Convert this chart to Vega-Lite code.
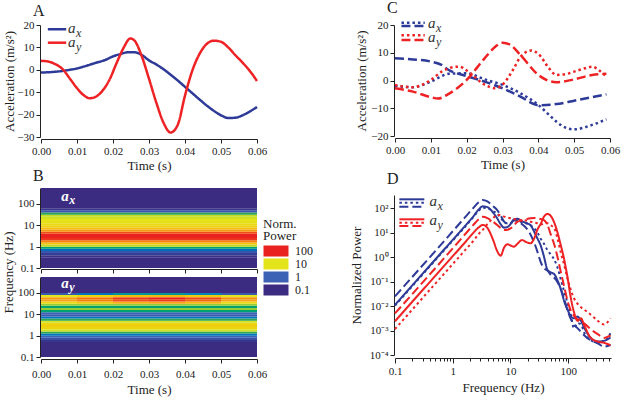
{
"$schema": "https://vega.github.io/schema/vega-lite/v6.json",
"background": "white",
"padding": {"left": 2, "top": 0, "right": 2, "bottom": 2},
"config": {
  "font": "Liberation Serif",
  "view": {"stroke": null},
  "axis": {"labelFont": "Liberation Serif", "titleFont": "Liberation Serif", "labelFontSize": 11, "titleFontSize": 13, "titleFontWeight": "normal", "labelColor": "#222", "titleColor": "#222", "domainColor": "#222", "tickColor": "#222", "grid": false, "tickSize": 4, "labelFlush": false, "labelOverlap": false},
  "title": {"font": "Liberation Serif", "fontSize": 16, "fontWeight": "normal", "anchor": "start", "color": "#222", "frame": "group"},
  "text": {"font": "Liberation Serif"}
},
"spacing": 354,
"bounds": "flush",
"hconcat": [
 {"vconcat": [
  {"width": 216, "height": 112,
   "title": {"text": "A", "dx": -8, "offset": 0, "frame": "group"},
   "layer": [
    {"data": {"values": [
      {"t":0,"k":"ax_solid","v":-1.2},{"t":0.003,"k":"ax_solid","v":-1.0},{"t":0.006,"k":"ax_solid","v":-0.5},{"t":0.008,"k":"ax_solid","v":0},{"t":0.01,"k":"ax_solid","v":0.6},{"t":0.012,"k":"ax_solid","v":1.5},{"t":0.015,"k":"ax_solid","v":3.0},{"t":0.018,"k":"ax_solid","v":4.5},{"t":0.02,"k":"ax_solid","v":6.0},{"t":0.022,"k":"ax_solid","v":7.0},{"t":0.024,"k":"ax_solid","v":7.8},{"t":0.026,"k":"ax_solid","v":7.8},{"t":0.028,"k":"ax_solid","v":6.6},{"t":0.03,"k":"ax_solid","v":4.2},{"t":0.032,"k":"ax_solid","v":2.4},{"t":0.034,"k":"ax_solid","v":0.3},{"t":0.036,"k":"ax_solid","v":-2.2},{"t":0.038,"k":"ax_solid","v":-4.8},{"t":0.04,"k":"ax_solid","v":-7.6},{"t":0.042,"k":"ax_solid","v":-10.4},{"t":0.044,"k":"ax_solid","v":-13.2},{"t":0.046,"k":"ax_solid","v":-15.9},{"t":0.048,"k":"ax_solid","v":-18.3},{"t":0.05,"k":"ax_solid","v":-20.3},{"t":0.052,"k":"ax_solid","v":-21.5},{"t":0.054,"k":"ax_solid","v":-21.4},{"t":0.056,"k":"ax_solid","v":-20.3},{"t":0.058,"k":"ax_solid","v":-18.6},{"t":0.06,"k":"ax_solid","v":-16.6},
      {"t":0,"k":"ay_solid","v":4.0},{"t":0.002,"k":"ay_solid","v":3.7},{"t":0.004,"k":"ay_solid","v":2.5},{"t":0.006,"k":"ay_solid","v":0.3},{"t":0.008,"k":"ay_solid","v":-3.9},{"t":0.01,"k":"ay_solid","v":-8.2},{"t":0.012,"k":"ay_solid","v":-11.5},{"t":0.0135,"k":"ay_solid","v":-12.7},{"t":0.015,"k":"ay_solid","v":-12.2},{"t":0.017,"k":"ay_solid","v":-9.5},{"t":0.019,"k":"ay_solid","v":-4.5},{"t":0.021,"k":"ay_solid","v":3.0},{"t":0.023,"k":"ay_solid","v":10.0},{"t":0.0248,"k":"ay_solid","v":14.0},{"t":0.026,"k":"ay_solid","v":13.0},{"t":0.028,"k":"ay_solid","v":6.0},{"t":0.03,"k":"ay_solid","v":-4.0},{"t":0.032,"k":"ay_solid","v":-14.5},{"t":0.034,"k":"ay_solid","v":-23.5},{"t":0.036,"k":"ay_solid","v":-28.0},{"t":0.038,"k":"ay_solid","v":-24.5},{"t":0.04,"k":"ay_solid","v":-11.5},{"t":0.042,"k":"ay_solid","v":-0.5},{"t":0.044,"k":"ay_solid","v":7.0},{"t":0.046,"k":"ay_solid","v":11.5},{"t":0.048,"k":"ay_solid","v":13.0},{"t":0.05,"k":"ay_solid","v":12.5},{"t":0.052,"k":"ay_solid","v":10.0},{"t":0.054,"k":"ay_solid","v":6.5},{"t":0.056,"k":"ay_solid","v":3.2},{"t":0.058,"k":"ay_solid","v":-0.5},{"t":0.06,"k":"ay_solid","v":-5.0}
     ]},
     "mark": {"type": "line", "interpolate": "monotone", "strokeWidth": 2.5},
     "encoding": {
      "x": {"field": "t", "type": "quantitative", "scale": {"domain": [0, 0.06], "nice": false, "zero": false}, "axis": {"values": [0,0.01,0.02,0.03,0.04,0.05,0.06], "tickCount": 20, "format": ".2f", "title": "Time (s)", "offset": 2, "titlePadding": 3, "labelOverlap": false}},
      "y": {"field": "v", "type": "quantitative", "scale": {"domain": [-30, 20], "nice": false, "zero": false}, "axis": {"values": [-30,-20,-10,0,10,20], "tickCount": 20, "title": "Acceleration (m/s²)", "offset": 1, "titlePadding": 0, "labelOverlap": false}},
      "stroke": {"field": "k", "type": "nominal", "scale": {"domain": ["ax_solid","ax_dotted","ax_dashed","ay_solid","ay_dotted","ay_dashed"], "range": ["#2d3a98","#2d3a98","#2d3a98","#ee2224","#ee2224","#ee2224"]}, "legend": null},
      "strokeDash": {"field": "k", "type": "nominal", "scale": {"domain": ["ax_solid","ax_dotted","ax_dashed","ay_solid","ay_dotted","ay_dashed"], "range": [[1,0],[2.5,3],[9,4],[1,0],[2.5,3],[9,4]]}, "legend": null}
     }},
    {"data": {"values": [{}]}, "mark": {"type": "rule", "stroke": "#2d3a98", "strokeWidth": 2.5}, "encoding": {"x": {"datum": 0.0019}, "x2": {"datum": 0.007}, "y": {"datum": 18.1}}},
    {"data": {"values": [{}]}, "mark": {"type": "rule", "stroke": "#ee2224", "strokeWidth": 2.5}, "encoding": {"x": {"datum": 0.0019}, "x2": {"datum": 0.007}, "y": {"datum": 12.1}}},
    {"data": {"values": [{}]}, "mark": {"type": "text", "text": "a", "fontStyle": "italic", "fontSize": 15, "align": "left", "baseline": "middle", "color": "#333"}, "encoding": {"x": {"datum": 0.0075}, "y": {"datum": 18.6}}},
    {"data": {"values": [{}]}, "mark": {"type": "text", "text": "x", "fontStyle": "italic", "fontSize": 12, "align": "left", "baseline": "middle", "dx": 8, "dy": 5, "color": "#333"}, "encoding": {"x": {"datum": 0.0075}, "y": {"datum": 18.6}}},
    {"data": {"values": [{}]}, "mark": {"type": "text", "text": "a", "fontStyle": "italic", "fontSize": 15, "align": "left", "baseline": "middle", "color": "#333"}, "encoding": {"x": {"datum": 0.0075}, "y": {"datum": 12.6}}},
    {"data": {"values": [{}]}, "mark": {"type": "text", "text": "y", "fontStyle": "italic", "fontSize": 12, "align": "left", "baseline": "middle", "dx": 8, "dy": 5, "color": "#333"}, "encoding": {"x": {"datum": 0.0075}, "y": {"datum": 12.6}}}
   ]},
  {"vconcat": [
    {"width": 216, "height": 80,
     "title": {"text": "B", "dx": -8, "offset": 4, "frame": "group"},
     "layer": [
      {"data": {"values": [
        {"t0":0,"t1":0.06,"f0":0.1,"f1":0.3162,"p":0.1},
        {"t0":0,"t1":0.06,"f0":0.3162,"f1":0.3981,"p":0.18},
        {"t0":0,"t1":0.06,"f0":0.3981,"f1":0.5012,"p":0.35},
        {"t0":0,"t1":0.06,"f0":0.5012,"f1":0.631,"p":0.7},
        {"t0":0,"t1":0.06,"f0":0.631,"f1":0.7943,"p":1.1},
        {"t0":0,"t1":0.06,"f0":0.7943,"f1":1,"p":2.5},
        {"t0":0,"t1":0.06,"f0":1,"f1":1.259,"p":8},
        {"t0":0,"t1":0.06,"f0":1.259,"f1":1.585,"p":18},
        {"t0":0,"t1":0.06,"f0":1.585,"f1":1.995,"p":45},
        {"t0":0,"t1":0.06,"f0":1.995,"f1":2.512,"p":90},
        {"t0":0,"t1":0.06,"f0":2.512,"f1":3.162,"p":100},
        {"t0":0,"t1":0.06,"f0":3.162,"f1":3.981,"p":100},
        {"t0":0,"t1":0.06,"f0":3.981,"f1":5.012,"p":75},
        {"t0":0,"t1":0.06,"f0":5.012,"f1":6.31,"p":35},
        {"t0":0,"t1":0.06,"f0":6.31,"f1":7.943,"p":20},
        {"t0":0,"t1":0.06,"f0":7.943,"f1":10,"p":14},
        {"t0":0,"t1":0.06,"f0":10,"f1":12.59,"p":12},
        {"t0":0,"t1":0.06,"f0":12.59,"f1":15.85,"p":11},
        {"t0":0,"t1":0.06,"f0":15.85,"f1":19.95,"p":10},
        {"t0":0,"t1":0.06,"f0":19.95,"f1":25.12,"p":9},
        {"t0":0,"t1":0.06,"f0":25.12,"f1":31.62,"p":8},
        {"t0":0,"t1":0.06,"f0":31.62,"f1":39.81,"p":3},
        {"t0":0,"t1":0.06,"f0":39.81,"f1":50.12,"p":0.7},
        {"t0":0,"t1":0.06,"f0":50.12,"f1":63.1,"p":0.2},
        {"t0":0,"t1":0.06,"f0":63.1,"f1":560,"p":0.1}
       ]},
       "mark": {"type": "rect"},
       "encoding": {
        "x": {"field": "t0", "type": "quantitative", "scale": {"domain": [0, 0.06], "nice": false, "zero": false}, "axis": {"values": [0,0.01,0.02,0.03,0.04,0.05,0.06], "tickCount": 20, "labels": false, "title": null, "offset": 1}},
        "x2": {"field": "t1"},
        "y": {"field": "f0", "type": "quantitative", "scale": {"type": "log", "domain": [0.1, 560], "nice": false}, "axis": {"values": [0.1,1,10,100], "tickCount": 20, "format": "~g", "title": "Frequency (Hz)", "titleY": 84, "titlePadding": 2, "offset": 1, "labelOverlap": false}},
        "y2": {"field": "f1"},
        "color": {"field": "p", "type": "quantitative", "scale": {"type": "log", "domain": [0.1, 0.3, 1, 3, 10, 30, 100], "range": ["#3b2c81", "#35388f", "#3c62b6", "#2fa64f", "#e4e41c", "#f6a51b", "#e9221f"], "clamp": true},
         "legend": {"type": "symbol", "values": [100, 10, 1, 0.1], "format": "~g", "title": ["Norm.", "Power"], "orient": "none", "legendX": 222, "legendY": 30, "symbolType": "M-1,-1H3.545V1H-1Z", "symbolSize": 121, "symbolStrokeWidth": 0, "symbolOpacity": 1, "labelFontSize": 12, "labelFont": "Liberation Serif", "titleFont": "Liberation Serif", "titleFontSize": 13, "titleFontWeight": "normal", "titleLineHeight": 12, "rowPadding": 1, "labelOffset": 20, "titlePadding": 2, "labelColor": "#222", "titleColor": "#222"}}
       }},
      {"data": {"values": [{}]}, "mark": {"type": "text", "text": "a", "fontStyle": "italic", "fontWeight": "bold", "fontSize": 15, "align": "left", "baseline": "middle", "color": "white"}, "encoding": {"x": {"datum": 0.0056}, "y": {"datum": 240}}},
      {"data": {"values": [{}]}, "mark": {"type": "text", "text": "x", "fontStyle": "italic", "fontWeight": "bold", "fontSize": 12, "align": "left", "baseline": "middle", "dx": 8, "dy": 4, "color": "white"}, "encoding": {"x": {"datum": 0.0056}, "y": {"datum": 240}}}
     ]},
    {"width": 216, "height": 80,
     "layer": [
      {"data": {"values": [
        {"t0":0,"t1":0.06,"f0":0.1,"f1":0.5012,"p":0.1},
        {"t0":0,"t1":0.06,"f0":0.5012,"f1":0.631,"p":0.25},
        {"t0":0,"t1":0.06,"f0":0.631,"f1":0.7943,"p":0.6},
        {"t0":0,"t1":0.06,"f0":0.7943,"f1":1,"p":1.0},
        {"t0":0,"t1":0.06,"f0":1,"f1":1.259,"p":1.2},
        {"t0":0,"t1":0.06,"f0":1.259,"f1":1.585,"p":3},
        {"t0":0,"t1":0.06,"f0":1.585,"f1":1.995,"p":9},
        {"t0":0,"t1":0.06,"f0":1.995,"f1":2.512,"p":13},
        {"t0":0,"t1":0.06,"f0":2.512,"f1":3.162,"p":15},
        {"t0":0,"t1":0.06,"f0":3.162,"f1":3.981,"p":13},
        {"t0":0,"t1":0.06,"f0":3.981,"f1":5.012,"p":9},
        {"t0":0,"t1":0.06,"f0":5.012,"f1":6.31,"p":3},
        {"t0":0,"t1":0.06,"f0":6.31,"f1":7.943,"p":1.2},
        {"t0":0,"t1":0.06,"f0":7.943,"f1":10,"p":0.8},
        {"t0":0,"t1":0.06,"f0":10,"f1":12.59,"p":1.0},
        {"t0":0,"t1":0.06,"f0":12.59,"f1":15.85,"p":2.5},
        {"t0":0,"t1":0.06,"f0":15.85,"f1":19.95,"p":6},
        {"t0":0,"t1":0.06,"f0":19.95,"f1":25.12,"p":2.5},
        {"t0":0,"t1":0.06,"f0":25.12,"f1":31.62,"p":6},
        {"t0":0,"t1":0.01,"f0":31.62,"f1":39.81,"p":12},{"t0":0.01,"t1":0.02,"f0":31.62,"f1":39.81,"p":16},{"t0":0.02,"t1":0.03,"f0":31.62,"f1":39.81,"p":25},{"t0":0.03,"t1":0.04,"f0":31.62,"f1":39.81,"p":30},{"t0":0.04,"t1":0.05,"f0":31.62,"f1":39.81,"p":22},{"t0":0.05,"t1":0.06,"f0":31.62,"f1":39.81,"p":12},
        {"t0":0,"t1":0.01,"f0":39.81,"f1":50.12,"p":30},{"t0":0.01,"t1":0.02,"f0":39.81,"f1":50.12,"p":45},{"t0":0.02,"t1":0.03,"f0":39.81,"f1":50.12,"p":75},{"t0":0.03,"t1":0.04,"f0":39.81,"f1":50.12,"p":85},{"t0":0.04,"t1":0.05,"f0":39.81,"f1":50.12,"p":60},{"t0":0.05,"t1":0.06,"f0":39.81,"f1":50.12,"p":30},
        {"t0":0,"t1":0.01,"f0":50.12,"f1":63.1,"p":35},{"t0":0.01,"t1":0.02,"f0":50.12,"f1":63.1,"p":55},{"t0":0.02,"t1":0.03,"f0":50.12,"f1":63.1,"p":90},{"t0":0.03,"t1":0.04,"f0":50.12,"f1":63.1,"p":100},{"t0":0.04,"t1":0.05,"f0":50.12,"f1":63.1,"p":80},{"t0":0.05,"t1":0.06,"f0":50.12,"f1":63.1,"p":40},
        {"t0":0,"t1":0.01,"f0":63.1,"f1":79.43,"p":10},{"t0":0.01,"t1":0.02,"f0":63.1,"f1":79.43,"p":14},{"t0":0.02,"t1":0.03,"f0":63.1,"f1":79.43,"p":20},{"t0":0.03,"t1":0.04,"f0":63.1,"f1":79.43,"p":22},{"t0":0.04,"t1":0.05,"f0":63.1,"f1":79.43,"p":16},{"t0":0.05,"t1":0.06,"f0":63.1,"f1":79.43,"p":10},
        {"t0":0,"t1":0.01,"f0":79.43,"f1":100,"p":0.8},{"t0":0.01,"t1":0.02,"f0":79.43,"f1":100,"p":1.2},{"t0":0.02,"t1":0.03,"f0":79.43,"f1":100,"p":2},{"t0":0.03,"t1":0.04,"f0":79.43,"f1":100,"p":2},{"t0":0.04,"t1":0.05,"f0":79.43,"f1":100,"p":1.5},{"t0":0.05,"t1":0.06,"f0":79.43,"f1":100,"p":0.8},
        {"t0":0,"t1":0.06,"f0":100,"f1":560,"p":0.1}
       ]},
       "mark": {"type": "rect"},
       "encoding": {
        "x": {"field": "t0", "type": "quantitative", "scale": {"domain": [0, 0.06], "nice": false, "zero": false}, "axis": {"values": [0,0.01,0.02,0.03,0.04,0.05,0.06], "tickCount": 20, "format": ".2f", "title": "Time (s)", "offset": 2, "labelPadding": 5, "titlePadding": 4, "labelOverlap": false}},
        "x2": {"field": "t1"},
        "y": {"field": "f0", "type": "quantitative", "scale": {"type": "log", "domain": [0.1, 560], "nice": false}, "axis": {"values": [0.1,1,10,100], "tickCount": 20, "format": "~g", "title": null, "offset": 1, "labelOverlap": false}},
        "y2": {"field": "f1"},
        "color": {"field": "p", "type": "quantitative", "scale": {"type": "log", "domain": [0.1, 0.3, 1, 3, 10, 30, 100], "range": ["#3b2c81", "#35388f", "#3c62b6", "#2fa64f", "#e4e41c", "#f6a51b", "#e9221f"], "clamp": true}, "legend": null}
       }},
      {"data": {"values": [{}]}, "mark": {"type": "text", "text": "a", "fontStyle": "italic", "fontWeight": "bold", "fontSize": 15, "align": "left", "baseline": "middle", "color": "white"}, "encoding": {"x": {"datum": 0.0056}, "y": {"datum": 290}}},
      {"data": {"values": [{}]}, "mark": {"type": "text", "text": "y", "fontStyle": "italic", "fontWeight": "bold", "fontSize": 12, "align": "left", "baseline": "middle", "dx": 8, "dy": 4, "color": "white"}, "encoding": {"x": {"datum": 0.0056}, "y": {"datum": 290}}}
     ]}
   ],
   "spacing": 9, "bounds": "flush",
   "resolve": {"scale": {"color": "independent"}, "legend": {"color": "independent"}}}
 ], "spacing": 51, "bounds": "flush"},
 {"vconcat": [
  {"width": 215, "height": 111,
   "title": {"text": "C", "dx": -8, "offset": 0, "frame": "group"},
   "layer": [
    {"data": {"values": [
      {"t":0,"k":"ax_dashed","v":8.0},{"t":0.005,"k":"ax_dashed","v":7.6},{"t":0.01,"k":"ax_dashed","v":6.8},{"t":0.013,"k":"ax_dashed","v":5.6},{"t":0.015,"k":"ax_dashed","v":3.8},{"t":0.02,"k":"ax_dashed","v":1.6},{"t":0.025,"k":"ax_dashed","v":-0.4},{"t":0.03,"k":"ax_dashed","v":-2.8},{"t":0.035,"k":"ax_dashed","v":-5.8},{"t":0.04,"k":"ax_dashed","v":-8.9},{"t":0.045,"k":"ax_dashed","v":-8.5},{"t":0.05,"k":"ax_dashed","v":-7.3},{"t":0.055,"k":"ax_dashed","v":-6.0},{"t":0.059,"k":"ax_dashed","v":-5.0},
      {"t":0,"k":"ax_dotted","v":-2.0},{"t":0.005,"k":"ax_dotted","v":-2.4},{"t":0.01,"k":"ax_dotted","v":-0.4},{"t":0.015,"k":"ax_dotted","v":2.4},{"t":0.02,"k":"ax_dotted","v":2.6},{"t":0.025,"k":"ax_dotted","v":0.4},{"t":0.03,"k":"ax_dotted","v":-1.6},{"t":0.035,"k":"ax_dotted","v":-4.6},{"t":0.04,"k":"ax_dotted","v":-8.8},{"t":0.043,"k":"ax_dotted","v":-12.4},{"t":0.045,"k":"ax_dotted","v":-14.8},{"t":0.048,"k":"ax_dotted","v":-17.2},{"t":0.05,"k":"ax_dotted","v":-17.6},{"t":0.055,"k":"ax_dotted","v":-16.0},{"t":0.059,"k":"ax_dotted","v":-14.0},
      {"t":0,"k":"ay_dashed","v":-2.8},{"t":0.005,"k":"ay_dashed","v":-4.0},{"t":0.01,"k":"ay_dashed","v":-6.0},{"t":0.012,"k":"ay_dashed","v":-6.5},{"t":0.015,"k":"ay_dashed","v":-4.8},{"t":0.02,"k":"ay_dashed","v":0.2},{"t":0.025,"k":"ay_dashed","v":8.0},{"t":0.028,"k":"ay_dashed","v":12.2},{"t":0.03,"k":"ay_dashed","v":13.6},{"t":0.032,"k":"ay_dashed","v":13.0},{"t":0.035,"k":"ay_dashed","v":9.2},{"t":0.04,"k":"ay_dashed","v":2.0},{"t":0.045,"k":"ay_dashed","v":-0.6},{"t":0.05,"k":"ay_dashed","v":0.4},{"t":0.055,"k":"ay_dashed","v":2.0},{"t":0.059,"k":"ay_dashed","v":2.4},
      {"t":0,"k":"ay_dotted","v":-1.6},{"t":0.005,"k":"ay_dotted","v":-2.4},{"t":0.01,"k":"ay_dotted","v":0.2},{"t":0.013,"k":"ay_dotted","v":3.2},{"t":0.015,"k":"ay_dotted","v":4.4},{"t":0.018,"k":"ay_dotted","v":5.0},{"t":0.02,"k":"ay_dotted","v":3.6},{"t":0.025,"k":"ay_dotted","v":-1.5},{"t":0.028,"k":"ay_dotted","v":-2.8},{"t":0.03,"k":"ay_dotted","v":-1.5},{"t":0.033,"k":"ay_dotted","v":4.0},{"t":0.035,"k":"ay_dotted","v":8.5},{"t":0.038,"k":"ay_dotted","v":10.8},{"t":0.04,"k":"ay_dotted","v":9.6},{"t":0.043,"k":"ay_dotted","v":4.4},{"t":0.045,"k":"ay_dotted","v":2.0},{"t":0.048,"k":"ay_dotted","v":2.4},{"t":0.05,"k":"ay_dotted","v":3.2},{"t":0.053,"k":"ay_dotted","v":4.4},{"t":0.055,"k":"ay_dotted","v":5.0},{"t":0.057,"k":"ay_dotted","v":3.6},{"t":0.059,"k":"ay_dotted","v":1.4}
     ]},
     "mark": {"type": "line", "interpolate": "monotone", "strokeWidth": 2.5},
     "encoding": {
      "x": {"field": "t", "type": "quantitative", "scale": {"domain": [0, 0.06], "nice": false, "zero": false}, "axis": {"values": [0,0.01,0.02,0.03,0.04,0.05,0.06], "tickCount": 20, "format": ".2f", "title": "Time (s)", "offset": 2, "titlePadding": 3, "labelOverlap": false}},
      "y": {"field": "v", "type": "quantitative", "scale": {"domain": [-20, 20], "nice": false, "zero": false}, "axis": {"values": [-20,-10,0,10,20], "tickCount": 20, "title": "Acceleration (m/s²)", "offset": 1, "titlePadding": 2, "labelOverlap": false}},
      "stroke": {"field": "k", "type": "nominal", "scale": {"domain": ["ax_solid","ax_dotted","ax_dashed","ay_solid","ay_dotted","ay_dashed"], "range": ["#2d3a98","#2d3a98","#2d3a98","#ee2224","#ee2224","#ee2224"]}, "legend": null},
      "strokeDash": {"field": "k", "type": "nominal", "scale": {"domain": ["ax_solid","ax_dotted","ax_dashed","ay_solid","ay_dotted","ay_dashed"], "range": [[1,0],[2.5,3],[9,4],[1,0],[2.5,3],[9,4]]}, "legend": null}
     }},
    {"data": {"values": [{}]}, "mark": {"type": "rule", "stroke": "#2d3a98", "strokeWidth": 2.5, "strokeDash": [2.5,3]}, "encoding": {"x": {"datum": 0.0018}, "x2": {"datum": 0.0083}, "y": {"datum": 20.8}}},
    {"data": {"values": [{}]}, "mark": {"type": "rule", "stroke": "#2d3a98", "strokeWidth": 2.5, "strokeDash": [9,4]}, "encoding": {"x": {"datum": 0.0018}, "x2": {"datum": 0.0083}, "y": {"datum": 19.6}}},
    {"data": {"values": [{}]}, "mark": {"type": "rule", "stroke": "#ee2224", "strokeWidth": 2.5, "strokeDash": [2.5,3]}, "encoding": {"x": {"datum": 0.0018}, "x2": {"datum": 0.0083}, "y": {"datum": 16.3}}},
    {"data": {"values": [{}]}, "mark": {"type": "rule", "stroke": "#ee2224", "strokeWidth": 2.5, "strokeDash": [9,4]}, "encoding": {"x": {"datum": 0.0018}, "x2": {"datum": 0.0083}, "y": {"datum": 14.6}}},
    {"data": {"values": [{}]}, "mark": {"type": "text", "text": "a", "fontStyle": "italic", "fontSize": 15, "align": "left", "baseline": "middle", "color": "#333"}, "encoding": {"x": {"datum": 0.0092}, "y": {"datum": 20.7}}},
    {"data": {"values": [{}]}, "mark": {"type": "text", "text": "x", "fontStyle": "italic", "fontSize": 12, "align": "left", "baseline": "middle", "dx": 8, "dy": 5, "color": "#333"}, "encoding": {"x": {"datum": 0.0092}, "y": {"datum": 20.7}}},
    {"data": {"values": [{}]}, "mark": {"type": "text", "text": "a", "fontStyle": "italic", "fontSize": 15, "align": "left", "baseline": "middle", "color": "#333"}, "encoding": {"x": {"datum": 0.0092}, "y": {"datum": 15.5}}},
    {"data": {"values": [{}]}, "mark": {"type": "text", "text": "y", "fontStyle": "italic", "fontSize": 12, "align": "left", "baseline": "middle", "dx": 8, "dy": 5, "color": "#333"}, "encoding": {"x": {"datum": 0.0092}, "y": {"datum": 15.5}}}
   ]},
  {"width": 216, "height": 160,
   "title": {"text": "D", "dx": -8, "offset": 7, "frame": "group"},
   "layer": [
    {"data": {"values": [
      {"f":0.1,"ax_solid":0.0112,"ax_dotted":0.0105,"ax_dashed":0.0251,"ay_solid":0.0024,"ay_dotted":0.00115,"ay_dashed":0.00501},
      {"f":1,"ax_solid":5.13,"ax_dotted":4.79,"ax_dashed":11.5,"ay_solid":1.10,"ay_dotted":0.525,"ay_dashed":2.29},
      {"f":1.585,"ax_solid":17.4,"ax_dotted":16.2,"ax_dashed":39.8,"ay_solid":3.72,"ay_dotted":1.78,"ay_dashed":7.94},
      {"f":2.239,"ax_solid":44.7,"ax_dotted":41.7,"ax_dashed":100,"ay_solid":9.55,"ay_dotted":4.47,"ay_dashed":20.0},
      {"f":2.818,"ax_solid":89.1,"ax_dotted":79.4,"ax_dashed":178,"ay_solid":16.6,"ay_dotted":8.91,"ay_dashed":35.5},
      {"f":3.311,"ax_solid":120,"ax_dotted":105,"ax_dashed":219,"ay_solid":20.9,"ay_dotted":13.2,"ay_dashed":44.7},
      {"f":3.981,"ax_solid":112,"ax_dotted":100,"ax_dashed":191,"ay_solid":15.8,"ay_dotted":22.4,"ay_dashed":39.8},
      {"f":5.012,"ax_solid":66.1,"ax_dotted":75.9,"ax_dashed":120,"ay_solid":5.01,"ay_dotted":39.8,"ay_dashed":28.2},
      {"f":5.888,"ax_solid":38.9,"ax_dotted":61.7,"ax_dashed":85.1,"ay_solid":1.78,"ay_dotted":53.7,"ay_dashed":20.9},
      {"f":6.761,"ax_solid":22.4,"ax_dotted":39.8,"ax_dashed":50.1,"ay_solid":1.15,"ay_dotted":52.5,"ay_dashed":15.8},
      {"f":7.762,"ax_solid":16.2,"ax_dotted":28.2,"ax_dashed":28.2,"ay_solid":2.51,"ay_dotted":45.7,"ay_dashed":12.9},
      {"f":8.913,"ax_solid":17.4,"ax_dotted":24.0,"ax_dashed":22.4,"ay_solid":3.39,"ay_dotted":41.7,"ay_dashed":13.2},
      {"f":10,"ax_solid":22.4,"ax_dotted":24.5,"ax_dashed":24.0,"ay_solid":3.02,"ay_dotted":38.9,"ay_dashed":15.1},
      {"f":11.48,"ax_solid":35.5,"ax_dotted":31.6,"ax_dashed":31.6,"ay_solid":2.69,"ay_dotted":36.3,"ay_dashed":20.0},
      {"f":13.18,"ax_solid":37.2,"ax_dotted":33.1,"ax_dashed":31.6,"ay_solid":3.55,"ay_dotted":33.9,"ay_dashed":28.2},
      {"f":15.85,"ax_solid":29.5,"ax_dotted":26.3,"ax_dashed":22.4,"ay_solid":5.01,"ay_dotted":33.1,"ay_dashed":31.6},
      {"f":18.62,"ax_solid":25.1,"ax_dotted":24.5,"ax_dashed":15.8,"ay_solid":4.17,"ay_dotted":31.6,"ay_dashed":35.5},
      {"f":22.39,"ax_solid":20.0,"ax_dotted":20.0,"ax_dashed":8.13,"ay_solid":3.72,"ay_dotted":28.2,"ay_dashed":38.9},
      {"f":25.7,"ax_solid":11.0,"ax_dotted":15.1,"ax_dashed":3.98,"ay_solid":5.89,"ay_dotted":26.3,"ay_dashed":39.8},
      {"f":29.51,"ax_solid":5.62,"ax_dotted":10,"ax_dashed":1.58,"ay_solid":14.1,"ay_dotted":24.0,"ay_dashed":38.9},
      {"f":33.11,"ax_solid":3.16,"ax_dotted":5.89,"ax_dashed":0.661,"ay_solid":22.4,"ay_dotted":21.9,"ay_dashed":36.3},
      {"f":38.02,"ax_solid":1.05,"ax_dotted":3.55,"ax_dashed":0.355,"ay_solid":45.7,"ay_dotted":22.9,"ay_dashed":33.1},
      {"f":43.65,"ax_solid":0.302,"ax_dotted":1.95,"ax_dashed":0.282,"ay_solid":58.9,"ay_dotted":24.5,"ay_dashed":20.9},
      {"f":50.12,"ax_solid":0.24,"ax_dotted":1.26,"ax_dashed":0.186,"ay_solid":47.9,"ay_dotted":20.0,"ay_dashed":8.13},
      {"f":57.54,"ax_solid":0.2,"ax_dotted":0.776,"ax_dashed":0.141,"ay_solid":25.1,"ay_dotted":15.1,"ay_dashed":3.16},
      {"f":64.57,"ax_solid":0.117,"ax_dotted":0.398,"ax_dashed":0.1,"ay_solid":11.0,"ay_dotted":6.31,"ay_dashed":1.12},
      {"f":74.13,"ax_solid":0.0501,"ax_dotted":0.126,"ax_dashed":0.0501,"ay_solid":3.16,"ay_dotted":1.58,"ay_dashed":0.257},
      {"f":85.11,"ax_solid":0.0158,"ax_dotted":0.0389,"ax_dashed":0.02,"ay_solid":0.794,"ay_dotted":0.479,"ay_dashed":0.0631},
      {"f":97.72,"ax_solid":0.00692,"ax_dotted":0.0126,"ax_dashed":0.00631,"ay_solid":0.138,"ay_dotted":0.126,"ay_dashed":0.0158},
      {"f":109.6,"ax_solid":0.00398,"ax_dotted":0.00501,"ax_dashed":0.00316,"ay_solid":0.0251,"ay_dotted":0.0501,"ay_dashed":0.00708},
      {"f":125.9,"ax_solid":0.00316,"ax_dotted":0.00123,"ax_dashed":0.0017,"ay_solid":0.00562,"ay_dotted":0.0209,"ay_dashed":0.00398},
      {"f":144.5,"ax_solid":0.00372,"ax_dotted":0.002,"ax_dashed":0.00126,"ay_solid":0.00251,"ay_dotted":0.0126,"ay_dashed":0.00282},
      {"f":166,"ax_solid":0.00251,"ax_dotted":0.00178,"ax_dashed":0.000891,"ay_solid":0.00316,"ay_dotted":0.00891,"ay_dashed":0.00229},
      {"f":190.5,"ax_solid":0.00126,"ax_dotted":0.000776,"ax_dashed":0.000631,"ay_solid":0.00158,"ay_dotted":0.00708,"ay_dashed":0.00191},
      {"f":245.5,"ax_solid":0.000501,"ax_dotted":0.000407,"ax_dashed":0.000398,"ay_solid":0.000501,"ay_dotted":0.00447,"ay_dashed":0.00112},
      {"f":323.6,"ax_solid":0.000355,"ax_dotted":0.000316,"ax_dashed":0.000302,"ay_solid":0.000355,"ay_dotted":0.00251,"ay_dashed":0.000708},
      {"f":416.9,"ax_solid":0.00038,"ax_dotted":0.000355,"ax_dashed":0.000219,"ay_solid":0.000316,"ay_dotted":0.00178,"ay_dashed":0.000501},
      {"f":540,"ax_solid":0.000525,"ax_dotted":0.000794,"ax_dashed":0.000257,"ay_solid":0.000251,"ay_dotted":0.00316,"ay_dashed":0.000631}
     ]},
     "transform": [{"fold": ["ax_solid","ax_dotted","ax_dashed","ay_solid","ay_dotted","ay_dashed"], "as": ["k", "p"]}],
     "mark": {"type": "line", "interpolate": "monotone", "strokeWidth": 2},
     "encoding": {
      "x": {"field": "f", "type": "quantitative", "scale": {"type": "log", "domain": [0.1, 550], "nice": false}, "axis": {"values": [0.1,0.2,0.3,0.4,0.5,0.6,0.7,0.8,0.9,1,2,3,4,5,6,7,8,9,10,20,30,40,50,60,70,80,90,100,200,300,400,500], "tickCount": 100, "labelExpr": "datum.value == 0.1 ? '0.1' : datum.value == 1 ? '1' : datum.value == 10 ? '10' : datum.value == 100 ? '100' : ''", "tickSize": {"condition": {"test": "datum.value == 0.1 || datum.value == 1 || datum.value == 10 || datum.value == 100", "value": 5}, "value": 3}, "title": "Frequency (Hz)", "offset": 3, "titlePadding": 5, "labelOverlap": false}},
      "y": {"field": "p", "type": "quantitative", "scale": {"type": "log", "domain": [0.0001, 350], "nice": false}, "axis": {"values": [0.0001,0.001,0.01,0.1,1,10,100], "tickCount": 20, "labelExpr": "datum.value < 0.0005 ? '10⁻⁴' : datum.value < 0.005 ? '10⁻³' : datum.value < 0.05 ? '10⁻²' : datum.value < 0.5 ? '10⁻¹' : datum.value < 5 ? '10⁰' : datum.value < 50 ? '10¹' : '10²'", "title": "Normalized Power", "offset": 1, "titlePadding": 6, "labelOverlap": false}},
      "stroke": {"field": "k", "type": "nominal", "scale": {"domain": ["ax_solid","ax_dotted","ax_dashed","ay_solid","ay_dotted","ay_dashed"], "range": ["#2d3a98","#2d3a98","#2d3a98","#ee2224","#ee2224","#ee2224"]}, "legend": null},
      "strokeDash": {"field": "k", "type": "nominal", "scale": {"domain": ["ax_solid","ax_dotted","ax_dashed","ay_solid","ay_dotted","ay_dashed"], "range": [[1,0],[2.5,3],[9,4],[1,0],[2.5,3],[9,4]]}, "legend": null}
     }},
    {"data": {"values": [{}]}, "mark": {"type": "rule", "stroke": "#2d3a98", "strokeWidth": 2}, "encoding": {"x": {"datum": 0.119}, "x2": {"datum": 0.322}, "y": {"datum": 233}}},
    {"data": {"values": [{}]}, "mark": {"type": "rule", "stroke": "#2d3a98", "strokeWidth": 2, "strokeDash": [2.5,3]}, "encoding": {"x": {"datum": 0.119}, "x2": {"datum": 0.322}, "y": {"datum": 169}}},
    {"data": {"values": [{}]}, "mark": {"type": "rule", "stroke": "#2d3a98", "strokeWidth": 2, "strokeDash": [9,4]}, "encoding": {"x": {"datum": 0.119}, "x2": {"datum": 0.322}, "y": {"datum": 116}}},
    {"data": {"values": [{}]}, "mark": {"type": "rule", "stroke": "#ee2224", "strokeWidth": 2}, "encoding": {"x": {"datum": 0.119}, "x2": {"datum": 0.322}, "y": {"datum": 35.5}}},
    {"data": {"values": [{}]}, "mark": {"type": "rule", "stroke": "#ee2224", "strokeWidth": 2, "strokeDash": [2.5,3]}, "encoding": {"x": {"datum": 0.119}, "x2": {"datum": 0.322}, "y": {"datum": 25.8}}},
    {"data": {"values": [{}]}, "mark": {"type": "rule", "stroke": "#ee2224", "strokeWidth": 2, "strokeDash": [9,4]}, "encoding": {"x": {"datum": 0.119}, "x2": {"datum": 0.322}, "y": {"datum": 18.9}}},
    {"data": {"values": [{}]}, "mark": {"type": "text", "text": "a", "fontStyle": "italic", "fontSize": 15, "align": "left", "baseline": "middle", "color": "#333"}, "encoding": {"x": {"datum": 0.394}, "y": {"datum": 190}}},
    {"data": {"values": [{}]}, "mark": {"type": "text", "text": "x", "fontStyle": "italic", "fontSize": 12, "align": "left", "baseline": "middle", "dx": 8, "dy": 5, "color": "#333"}, "encoding": {"x": {"datum": 0.394}, "y": {"datum": 190}}},
    {"data": {"values": [{}]}, "mark": {"type": "text", "text": "a", "fontStyle": "italic", "fontSize": 15, "align": "left", "baseline": "middle", "color": "#333"}, "encoding": {"x": {"datum": 0.394}, "y": {"datum": 33}}},
    {"data": {"values": [{}]}, "mark": {"type": "text", "text": "y", "fontStyle": "italic", "fontSize": 12, "align": "left", "baseline": "middle", "dx": 8, "dy": 5, "color": "#333"}, "encoding": {"x": {"datum": 0.394}, "y": {"datum": 33}}}
   ]}
 ], "spacing": 59, "bounds": "flush"}
]
}
